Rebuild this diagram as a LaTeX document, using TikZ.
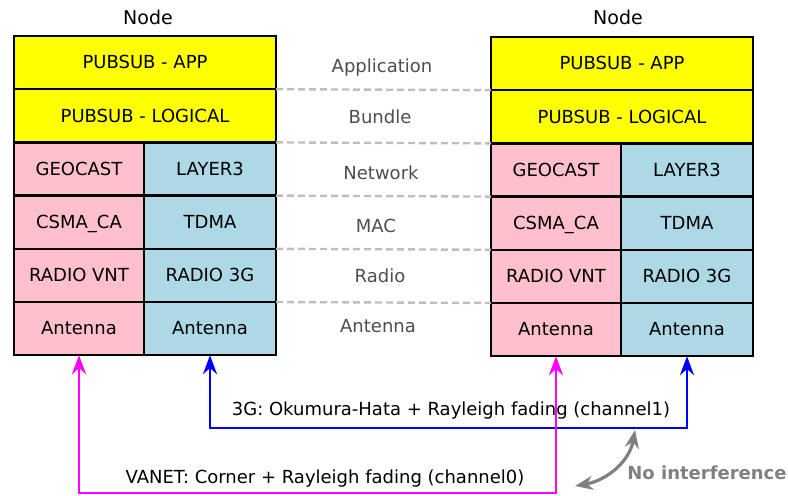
\documentclass[tikz,border=0pt]{standalone}
\usepackage{fontspec}
\setmainfont{DejaVu Sans}
\usetikzlibrary{positioning,arrows.meta}

\definecolor{pubsub}{HTML}{FFFF00}
\definecolor{pinkcell}{HTML}{FFC0CB}
\definecolor{bluecell}{HTML}{ADD8E6}
\definecolor{layergray}{HTML}{4D4D4D}
\definecolor{dashgray}{HTML}{BEBEBE}
\definecolor{nogray}{HTML}{808080}
\definecolor{vanetcol}{HTML}{FF00FF}
\definecolor{gcol}{HTML}{0000FF}

\tikzset{
  cell/.style={draw=black, line width=1.2pt, outer sep=0pt, inner sep=0pt,
    minimum height=26.6pt, text height=8.3pt, text depth=1.9pt,
    font=\fontsize{9}{10}\selectfont},
  fullcell/.style={cell, fill=pubsub, minimum width=131pt},
  lcell/.style={cell, fill=pinkcell, minimum width=65pt},
  rcell/.style={cell, fill=bluecell, minimum width=66pt},
  nodename/.style={font=\fontsize{9.5}{10}\selectfont},
  layer/.style={text=layergray, font=\fontsize{9}{10}\selectfont},
  sep/.style={dashgray, line width=1.2pt, dash pattern=on 3.5pt off 2pt},
  chan/.style={line width=1.4pt, arrows={Stealth[length=9.5pt,width=7pt]-Stealth[length=9.5pt,width=7pt]}},
  chanlbl/.style={font=\fontsize{9}{10}\selectfont},
  noint/.style={nogray, line width=1.6pt, arrows={Stealth[length=9pt,width=7pt]-Stealth[length=9pt,width=7pt]}}
}

% one protocol stack, #1 = name prefix, (#2,#3) = top left corner
\newcommand{\protostack}[3]{%
  \node[fullcell, anchor=north west] (#1app) at (#2,#3) {PUBSUB - APP};
  \node[fullcell, below=0pt of #1app] (#1bdl) {PUBSUB - LOGICAL};
  \node[lcell, below right=0pt of #1bdl.south west] (#1geo) {GEOCAST};
  \node[rcell, right=0pt of #1geo] (#1lay) {LAYER3};
  \node[lcell, below=0pt of #1geo] (#1csma) {CSMA\_CA};
  \node[rcell, right=0pt of #1csma] (#1tdma) {TDMA};
  \node[lcell, below=0pt of #1csma] (#1vnt) {RADIO VNT};
  \node[rcell, right=0pt of #1vnt] (#1threeg) {RADIO 3G};
  \node[lcell, below=0pt of #1vnt] (#1ant) {Antenna};
  \node[rcell, right=0pt of #1ant] (#1antb) {Antenna};
}

\begin{document}
\begin{tikzpicture}[x=0.5pt,y=-0.5pt]
  \useasboundingbox (0,0) rectangle (788,496);

  % the two nodes
  \protostack{l}{14}{36}
  \protostack{r}{491}{37}
  \node[nodename] (lname) at (148,17) {Node};
  \node[nodename] (rname) at (618,17) {Node};

  % layer borders
  \draw[sep] (lapp.south east) -- (rapp.south west);
  \draw[sep] (lbdl.south east) -- (rbdl.south west);
  \draw[sep] (llay.south east) -- (rgeo.south west);
  \draw[sep] (ltdma.south east) -- (rcsma.south west);
  \draw[sep] (lthreeg.south east) -- (rvnt.south west);

  \node[layer] (lyapp) at (382,68) {Application};
  \node[layer] (lybdl) at (380,117) {Bundle};
  \node[layer] (lynet) at (381,173) {Network};
  \node[layer] (lymac) at (376,226) {MAC};
  \node[layer] (lyrad) at (380,276) {Radio};
  \node[layer] (lyant) at (378,326) {Antenna};

  % channels
  \coordinate (gbot) at (450,428);
  \coordinate (vbot) at (325,493);
  \draw[chan, gcol] (lantb.south) |- (gbot) -| (rantb.south);
  \draw[chan, vanetcol] (lant.south) |- (vbot) -| (rant.south);
  \node[chanlbl] (glbl) at (451,411) {3G: Okumura-Hata + Rayleigh fading (channel1)};
  \node[chanlbl] (vlbl) at (325,479) {VANET: Corner + Rayleigh fading (channel0)};

  % no interference
  \coordinate (nitop) at (635,430);
  \coordinate (nibot) at (575,486);
  \draw[noint] (nitop) to[out=-100,in=10] (nibot);
  \node[text=nogray, font=\fontsize{9}{10}\selectfont\bfseries] (nilbl) at (707,473) {No interference};
\end{tikzpicture}
\end{document}
